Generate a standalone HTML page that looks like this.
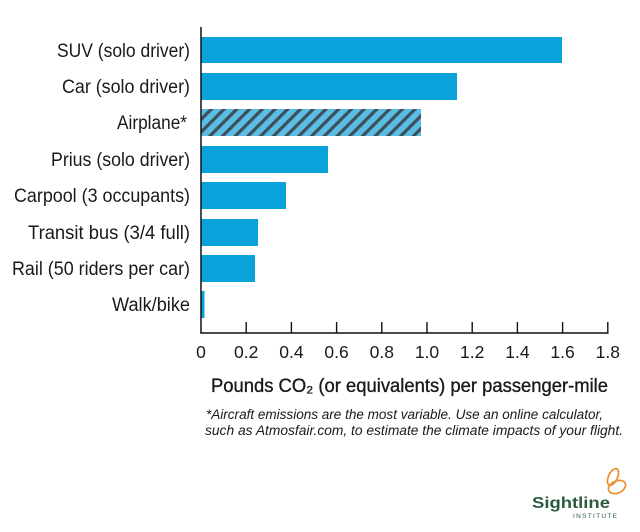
<!DOCTYPE html>
<html><head><meta charset="utf-8"><style>
html,body{margin:0;padding:0;background:#fff;}
svg{display:block;}
text{font-family:"Liberation Sans",sans-serif;fill:#1a1a1a;}
</style></head><body>
<svg width="640" height="532" viewBox="0 0 640 532" xmlns="http://www.w3.org/2000/svg">
<defs>
<pattern id="hatch" patternUnits="userSpaceOnUse" width="9" height="9" patternTransform="rotate(45)">
<rect width="9" height="9" fill="#5bbde2"/>
<rect x="0" y="0" width="3.2" height="9" fill="#3b4f5c"/>
</pattern>
</defs>
<rect width="640" height="532" fill="#fff"/>
<!-- bars -->
<rect x="201" y="37" width="361" height="26" fill="#0aa2da"/>
<rect x="201" y="73" width="256" height="27" fill="#0aa2da"/>
<rect x="201" y="109" width="220" height="27" fill="url(#hatch)"/>
<rect x="201" y="146" width="127" height="27" fill="#0aa2da"/>
<rect x="201" y="182" width="85" height="27" fill="#0aa2da"/>
<rect x="201" y="219" width="57" height="27" fill="#0aa2da"/>
<rect x="201" y="255" width="54" height="27" fill="#0aa2da"/>
<rect x="201" y="291" width="3.5" height="27" fill="#0aa2da"/>
<!-- axes -->
<line x1="201" y1="27" x2="201" y2="333.5" stroke="#111" stroke-width="1.5"/>
<line x1="200.3" y1="333" x2="608.6" y2="333" stroke="#111" stroke-width="1.5"/>
<g stroke="#111" stroke-width="1.4">
<line x1="246.2" y1="322" x2="246.2" y2="333"/>
<line x1="291.4" y1="322" x2="291.4" y2="333"/>
<line x1="336.6" y1="322" x2="336.6" y2="333"/>
<line x1="381.8" y1="322" x2="381.8" y2="333"/>
<line x1="427" y1="322" x2="427" y2="333"/>
<line x1="472.2" y1="322" x2="472.2" y2="333"/>
<line x1="517.4" y1="322" x2="517.4" y2="333"/>
<line x1="562.6" y1="322" x2="562.6" y2="333"/>
<line x1="607.8" y1="322" x2="607.8" y2="333"/>
</g>
<!-- category labels -->
<g font-size="19">
<text x="57" y="57" textLength="133" lengthAdjust="spacingAndGlyphs">SUV (solo driver)</text>
<text x="62" y="93" textLength="128" lengthAdjust="spacingAndGlyphs">Car (solo driver)</text>
<text x="117" y="129" textLength="70" lengthAdjust="spacingAndGlyphs">Airplane*</text>
<text x="51" y="166" textLength="139" lengthAdjust="spacingAndGlyphs">Prius (solo driver)</text>
<text x="14" y="202" textLength="176" lengthAdjust="spacingAndGlyphs">Carpool (3 occupants)</text>
<text x="28" y="239" textLength="162" lengthAdjust="spacingAndGlyphs">Transit bus (3/4 full)</text>
<text x="12" y="275" textLength="178" lengthAdjust="spacingAndGlyphs">Rail (50 riders per car)</text>
<text x="112" y="311" textLength="78" lengthAdjust="spacingAndGlyphs">Walk/bike</text>
</g>
<!-- tick labels -->
<g font-size="17.5" text-anchor="middle">
<text x="201" y="358">0</text>
<text x="246.2" y="358">0.2</text>
<text x="291.4" y="358">0.4</text>
<text x="336.6" y="358">0.6</text>
<text x="381.8" y="358">0.8</text>
<text x="427" y="358">1.0</text>
<text x="472.2" y="358">1.2</text>
<text x="517.4" y="358">1.4</text>
<text x="562.6" y="358">1.6</text>
<text x="607.8" y="358">1.8</text>
</g>
<!-- axis title -->
<text x="211" y="392" font-size="19" stroke="#1a1a1a" stroke-width="0.35" textLength="397" lengthAdjust="spacingAndGlyphs">Pounds CO₂ (or equivalents) per passenger-mile</text>
<!-- footnote -->
<g font-size="13.5" font-style="italic" fill="#222">
<text x="206" y="419" textLength="397" lengthAdjust="spacingAndGlyphs">*Aircraft emissions are the most variable.  Use an online calculator,</text>
<text x="205" y="435" textLength="418" lengthAdjust="spacingAndGlyphs">such as Atmosfair.com, to estimate the climate impacts of your flight.</text>
</g>
<!-- logo -->
<g fill="none" stroke="#ec9438" stroke-width="1.8">
<ellipse cx="613" cy="477" rx="4.5" ry="9" transform="rotate(25 613 477)"/>
<ellipse cx="617" cy="487" rx="9" ry="6" transform="rotate(-25 617 487)"/>
</g>
<text x="532" y="508" font-size="15.5" font-weight="bold" style="fill:#2c5a3f" textLength="78" lengthAdjust="spacingAndGlyphs">Sightline</text>
<text x="573" y="518" font-size="6.5" style="fill:#2c5a3f" textLength="44" lengthAdjust="spacing">INSTITUTE</text>
</svg>
</body></html>
